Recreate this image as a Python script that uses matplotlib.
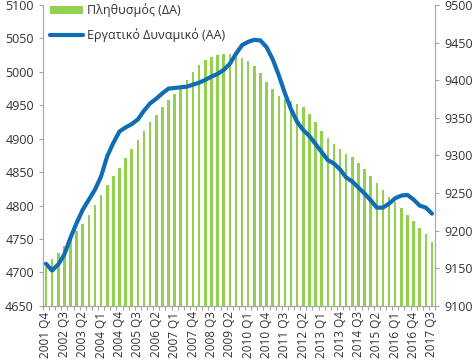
import matplotlib
matplotlib.use("Agg")
import matplotlib.pyplot as plt
import numpy as np

# Quarters 2001 Q4 .. 2017 Q3
quarters = []
y, q = 2001, 4
for _ in range(64):
    quarters.append(f"{y} Q{q}")
    q += 1
    if q > 4:
        q = 1
        y += 1

# Population (right axis, thousands)
population = [9152, 9162, 9170, 9179, 9189, 9199, 9209, 9221, 9234, 9248,
              9261, 9273, 9284, 9296, 9308, 9320, 9332, 9344, 9354, 9364,
              9374, 9382, 9388, 9401, 9411, 9420, 9427, 9431, 9434, 9435,
              9435, 9431, 9430, 9426, 9419, 9410, 9398, 9388, 9379, 9375,
              9373, 9369, 9365, 9355, 9344, 9333, 9323, 9315, 9309, 9302,
              9298, 9290, 9282, 9273, 9263, 9254, 9245, 9238, 9230, 9221,
              9213, 9204, 9195, 9185]

# Labour force (left axis, thousands)
labour_force = [4713, 4703, 4712, 4727, 4752, 4774, 4794, 4809, 4824, 4844,
                4874, 4894, 4911, 4917, 4922, 4929, 4942, 4953, 4960, 4968,
                4975, 4976, 4977, 4978, 4981, 4984, 4988, 4993, 4997, 5003,
                5012, 5027, 5040, 5045, 5048, 5047, 5037, 5019, 4995, 4968,
                4944, 4925, 4913, 4904, 4892, 4880, 4868, 4863, 4854, 4842,
                4836, 4827, 4818, 4808, 4797, 4797, 4803, 4811, 4815, 4816,
                4809, 4800, 4797, 4788]

label_step = 3
left_ticks = list(range(4650, 5101, 50))
right_ticks = list(range(9100, 9501, 50))

txt = "#333333"
spine_c = "#A6A6A6"
plt.rcParams['font.family'] = ['Open Sans', 'DejaVu Sans']

fig = plt.figure(figsize=(4.77, 3.62), dpi=100)
ax = fig.add_axes([0.090, 0.155, 0.822, 0.831])
ax2 = ax.twinx()

x = np.arange(len(quarters))

# bars on right axis (drawn on ax2 but behind line)
ax2.bar(x, np.array(population) - 9100, bottom=9100, width=0.42,
        color="#92D050", label="Πληθυσμός (ΔΑ)", zorder=1)
ax2.set_ylim(9100, 9500)
ax2.set_yticks(right_ticks)

ax.set_zorder(ax2.get_zorder() + 1)
ax.patch.set_visible(False)
ax.plot(x, labour_force, color="#0F6DB5", lw=3.0, solid_joinstyle="round",
        solid_capstyle="round", label="Εργατικό Δυναμικό (ΑΑ)", zorder=3)
ax.set_ylim(4650, 5100)
ax.set_yticks(left_ticks)
ax.set_xlim(-0.5, len(quarters) - 0.5)

ax.set_xticks(x[::label_step])
ax.set_xticklabels(quarters[::label_step], rotation=90, fontsize=8.5, color=txt)
ax.set_xticks(np.arange(-0.5, len(quarters), 1), minor=True)
ax.tick_params(axis='x', which='major', length=0, pad=4)
ax.tick_params(axis='x', which='minor', length=3, color=spine_c, width=0.8)

ax.tick_params(axis='y', labelsize=9, colors=txt, length=3, width=0.8)
ax.tick_params(axis='y', color=spine_c)
ax2.tick_params(axis='y', labelsize=9, colors=txt, length=3, width=0.8)
ax2.tick_params(axis='y', color=spine_c)

for a in (ax, ax2):
    a.spines['top'].set_visible(False)
    for s in ('left', 'right', 'bottom'):
        a.spines[s].set_color(spine_c)
        a.spines[s].set_linewidth(0.8)

h1, l1 = ax2.get_legend_handles_labels()
h2, l2 = ax.get_legend_handles_labels()
leg = ax.legend(h1 + h2, l1 + l2, loc='upper left', bbox_to_anchor=(0.0, 1.03),
                frameon=False, fontsize=9, handlelength=2.6, handletextpad=0.3,
                labelspacing=0.9, borderaxespad=0.2)
for t in leg.get_texts():
    t.set_color(txt)

fig.savefig("out.png", dpi=100)
